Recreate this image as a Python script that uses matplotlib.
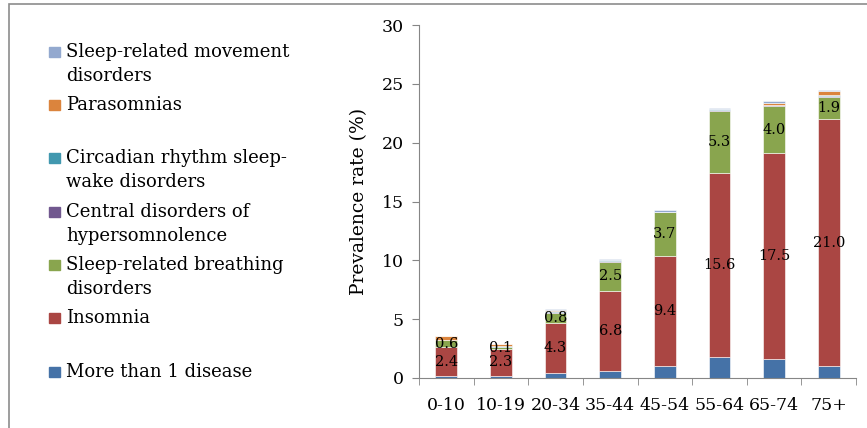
import numpy as np
import matplotlib
matplotlib.use("Agg")
import matplotlib.pyplot as plt
from matplotlib.patches import Rectangle

# age groups and stacked prevalence (%) per disorder group
ages = ["0-10", "10-19", "20-34", "35-44", "45-54", "55-64", "65-74", "75+"]
more_than_one = [0.2, 0.2, 0.4, 0.6, 1.0, 1.8, 1.6, 1.0]
insomnia = [2.4, 2.3, 4.3, 6.8, 9.4, 15.6, 17.5, 21.0]
breathing = [0.6, 0.1, 0.8, 2.5, 3.7, 5.3, 4.0, 1.9]
central = [0.0, 0.05, 0.1, 0.05, 0.05, 0.1, 0.1, 0.1]
circadian = [0.05, 0.1, 0.1, 0.05, 0.0, 0.05, 0.0, 0.05]
parasomnias = [0.3, 0.1, 0.05, 0.0, 0.0, 0.0, 0.2, 0.3]
movement = [0.0, 0.05, 0.1, 0.15, 0.1, 0.1, 0.1, 0.1]

series = [
    ("More than 1 disease", more_than_one, "#4572A7", False),
    ("Insomnia", insomnia, "#AA4643", True),
    ("Sleep-related breathing\ndisorders", breathing, "#89A54E", True),
    ("Central disorders of\nhypersomnolence", central, "#71588F", False),
    ("Circadian rhythm sleep-\nwake disorders", circadian, "#4198AF", False),
    ("Parasomnias", parasomnias, "#DB843D", False),
    ("Sleep-related movement\ndisorders", movement, "#93A9CF", False),
]

plt.rcParams['font.family'] = ['DejaVu Serif']
W, H = 867, 428
fig = plt.figure(figsize=(W / 100, H / 100), dpi=100)

# outer frame of the original chart area
fig.patches.append(Rectangle((9 / W, -0.1), 1.2, 1.1 - 4 / H, transform=fig.transFigure,
                             fill=False, edgecolor="#8c8c8c", linewidth=1.2))

ax = fig.add_axes([419 / W, 1 - 378 / H, (856 - 419) / W, (378 - 25) / H])
x = np.arange(len(ages))
bottom = np.zeros(len(ages))
for name, vals, color, labelled in series:
    bars = ax.bar(x, vals, 0.4, bottom=bottom, color=color, edgecolor="white", linewidth=0.4)
    if labelled:
        ax.bar_label(bars, labels=[f"{v:.1f}" for v in vals], label_type="center", fontsize=10.5)
    bottom += np.array(vals)

ax.set_xlim(-0.5, len(ages) - 0.5)
ax.set_ylim(0, 30)
ax.set_yticks(range(0, 31, 5))
ax.set_xticks(x)
ax.set_xticklabels(ages)
ax.set_xticks(np.arange(-0.5, len(ages), 1), minor=True)
ax.tick_params(axis="x", which="major", length=0, pad=14, labelsize=12.5)
ax.tick_params(axis="x", which="minor", length=5, color="#868686")
ax.tick_params(axis="y", length=5, color="#868686", labelsize=12.5, pad=6)
for s in ["top", "right"]:
    ax.spines[s].set_visible(False)
for s in ["left", "bottom"]:
    ax.spines[s].set_color("#868686")
ax.set_ylabel("Prevalence rate (%)", fontsize=13.5, labelpad=10)

# legend, drawn by hand to keep the uneven spacing of the original
legend_y = [52, 105, 158, 212, 265, 318, 372]
for (name, vals, color, _), y in zip(series[::-1], legend_y):
    fig.patches.append(Rectangle((49 / W, 1 - (y + 5) / H), 11 / W, 10 / H,
                                 transform=fig.transFigure, color=color))
    for i, line in enumerate(name.split("\n")):
        fig.text(66 / W, 1 - (y + 24 * i) / H, line, fontsize=13, va="center", ha="left")

fig.savefig("out.png", dpi=100)
